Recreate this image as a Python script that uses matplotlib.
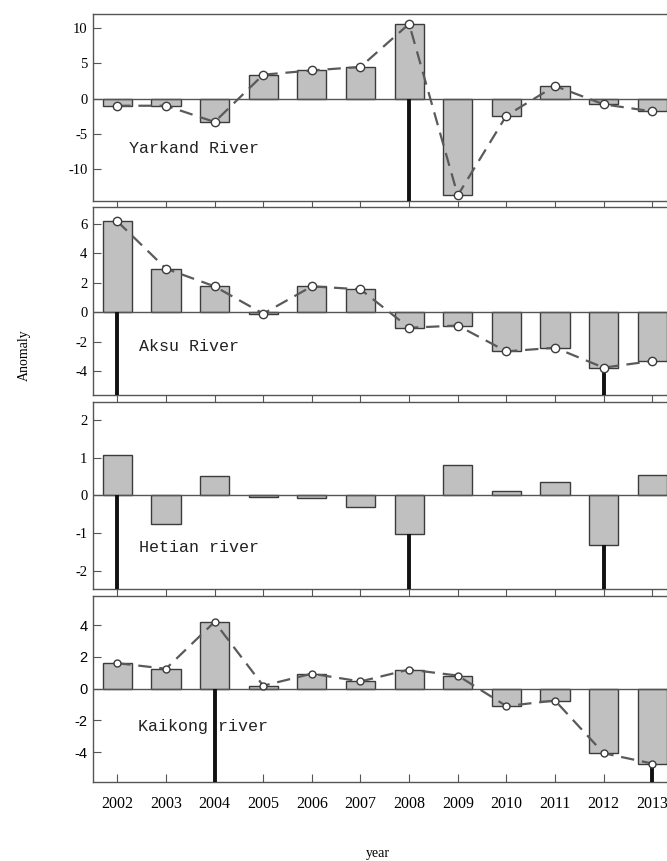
#! /usr/bin/env python3
# -*- coding: utf-8 -*-
"""
    Anomaly bars of four rivers, 2002-2013, with change point marks
"""
import matplotlib
matplotlib.use("Agg")
import matplotlib.pyplot as plt

plt.rcParams['axes.unicode_minus'] = False
plt.rcParams['font.family'] = ['Liberation Serif', 'DejaVu Serif']

YEARS = list(range(2002, 2014))

RIVERS = ["Yarkand River", "Aksu River", "Hetian river", "Kaikong river"]

YARKAND = [-1.0, -1.0, -3.3, 3.4, 4.0, 4.5, 10.6, -13.7, -2.4, 1.8, -0.8, -1.8]
AKSU = [6.15, 2.95, 1.75, -0.1, 1.75, 1.55, -1.05, -0.9, -2.65, -2.4, -3.75, -3.3]
HETIAN = [1.07, -0.77, 0.53, -0.05, -0.06, -0.32, -1.03, 0.82, 0.11, 0.37, -1.33, 0.54]
KAIKONG = [1.6, 1.25, 4.2, 0.18, 0.94, 0.45, 1.2, 0.82, -1.1, -0.75, -4.07, -4.72]

# change point years (black bars)
CHANGE_YEARS = [[2008], [2002, 2012], [2002, 2008, 2012], [2004, 2013]]

# whether the dashed line is drawn
SHOW_LINE = [True, True, False, True]

YLIMS = [(-14.5, 12.0), (-5.6, 7.1), (-2.5, 2.48), (-5.9, 5.85)]
YTICKS = [[-10, -5, 0, 5, 10], [-4, -2, 0, 2, 4, 6], [-2, -1, 0, 1, 2],
          [-4, -2, 0, 2, 4]]
LABEL_POS = [(0.063, 0.283), (0.08, 0.257), (0.08, 0.225), (0.079, 0.298)]

DATA = [YARKAND, AKSU, HETIAN, KAIKONG]

# axes boxes in figure pixels (top, bottom)
BOXES = [(14, 201), (207.3, 395), (402.3, 589.3), (595.7, 782.3)]
W, H = 667, 861
LEFT = 93

SPINE = '#555555'

fig = plt.figure(figsize=(W / 100, H / 100), dpi=100)
for i, vals in enumerate(DATA):
    top, bot = BOXES[i]
    ax = fig.add_axes([LEFT / W, 1 - bot / H, 1 - LEFT / W + 0.002, (bot - top) / H])
    ymin, ymax = YLIMS[i]
    ax.bar(YEARS, vals, width=0.6, color='#c0c0c0', edgecolor='#3c3c3c',
           linewidth=1.0, zorder=2)
    ax.axhline(0, color=SPINE, lw=1.0, zorder=3)
    if SHOW_LINE[i]:
        ms = 6 if i < 3 else 5
        ax.plot(YEARS, vals, ls=(0, (6, 3.5)), color='#5a5a5a', lw=1.6,
                marker='o', ms=ms, mfc='white', mec='#3c3c3c', mew=1.0, zorder=5)
    for yr in CHANGE_YEARS[i]:
        v = vals[YEARS.index(yr)]
        ax.vlines(yr, ymin, min(0, v), color='#111111', lw=2.8, zorder=4)
    ax.set_xlim(2001.5, 2013.33)
    ax.set_ylim(ymin, ymax)
    ax.set_yticks(YTICKS[i])
    ax.set_xticks(YEARS)
    for s in ax.spines.values():
        s.set_color(SPINE)
        s.set_linewidth(1.0)
    ax.spines['right'].set_visible(False)
    ax.tick_params(axis='y', direction='in', length=6, color=SPINE,
                   labelsize=10.5, pad=4)
    if i < 3:
        ax.tick_params(axis='x', direction='out', length=6, color=SPINE,
                       labelbottom=False)
    else:
        ax.tick_params(axis='x', direction='in', length=6, color=SPINE,
                       labelsize=11.5, pad=10)
        for lb in ax.get_yticklabels():
            lb.set_family(['Liberation Sans', 'DejaVu Sans'])
    ax.text(LABEL_POS[i][0], LABEL_POS[i][1], RIVERS[i], transform=ax.transAxes,
            fontsize=12, family=['Liberation Mono', 'DejaVu Sans Mono'],
            va='center', ha='left', color='#222222', zorder=3)

fig.text(24 / W, 1 - 355 / H, "Anomaly", rotation=90, ha='center', va='center',
         fontsize=10)
fig.text(378 / W, 1 - 853 / H, "year", ha='center', va='center', fontsize=10)

fig.savefig("out.png", dpi=100)
